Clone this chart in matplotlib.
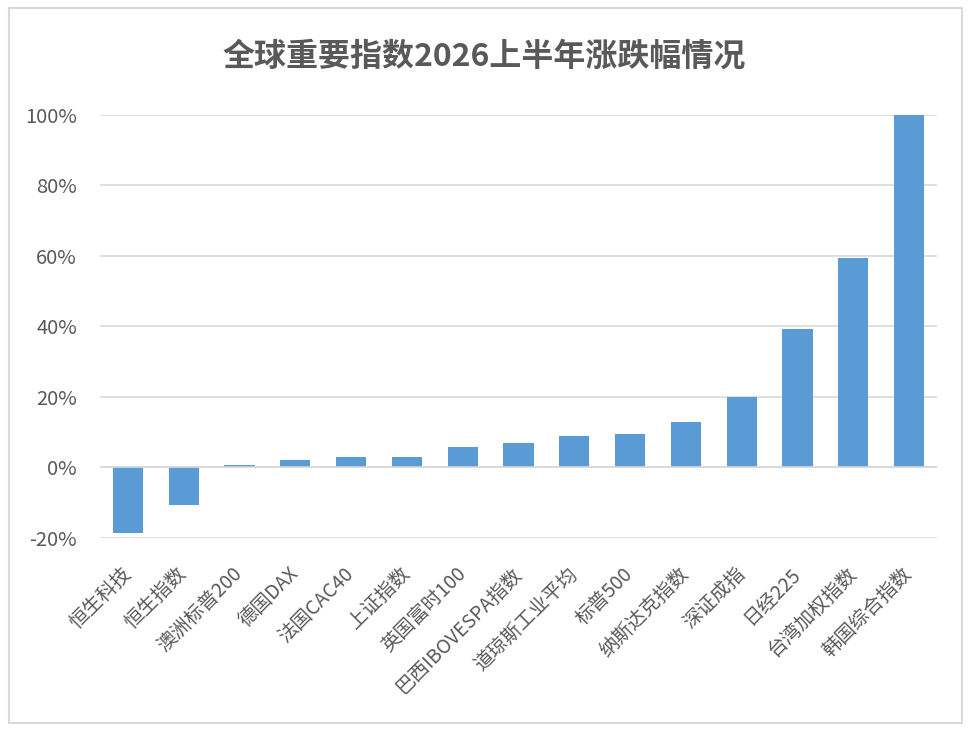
import matplotlib
matplotlib.use("Agg")
import matplotlib.pyplot as plt
from matplotlib.patches import Rectangle
from matplotlib.ticker import FuncFormatter, MultipleLocator

plt.rcParams['font.family'] = ['Noto Sans CJK SC', 'DejaVu Sans']

categories = ["恒生科技", "恒生指数", "澳洲标普200", "德国DAX", "法国CAC40", "上证指数",
              "英国富时100", "巴西IBOVESPA指数", "道琼斯工业平均", "标普500", "纳斯达克指数",
              "深证成指", "日经225", "台湾加权指数", "韩国综合指数"]
values = [-0.188, -0.108, 0.007, 0.019, 0.030, 0.030, 0.056, 0.067, 0.087, 0.095,
          0.127, 0.198, 0.392, 0.593, 1.000]
title = "全球重要指数2026上半年涨跌幅情况"

text_color = "#595959"
grid_color = "#d9d9d9"
bar_color = "#5b9bd5"

W, H = 969, 733
fig = plt.figure(figsize=(W / 100, H / 100), dpi=100)
fig.patch.set_facecolor("white")

# outer border
fig.patches.append(Rectangle((9 / W, 1 - 723 / H), (962 - 9) / W, (723 - 8) / H,
                             transform=fig.transFigure, fill=False,
                             edgecolor=grid_color, linewidth=1.5))

ax = fig.add_axes([100 / W, 1 - 537.5 / H, (937 - 100) / W, (537.5 - 115) / H])
x = list(range(len(categories)))
ax.bar(x, values, width=0.54, color=bar_color, zorder=2)
ax.axhline(0, color=grid_color, linewidth=1.2, zorder=3)

ax.set_xlim(-0.5, len(categories) - 0.5)
ax.set_ylim(-0.2, 1.0)
ax.yaxis.set_major_locator(MultipleLocator(0.2))
ax.yaxis.set_major_formatter(FuncFormatter(lambda v, p: f"{round(v * 100):d}%"))
ax.grid(axis="y", color=grid_color, linewidth=1.2, zorder=0)
ax.set_axisbelow(True)
for s in ax.spines.values():
    s.set_visible(False)

ax.tick_params(axis="y", length=0, pad=16.5, labelsize=14.5, labelcolor=text_color)
ax.tick_params(axis="x", length=0, pad=24, labelsize=14, labelcolor=text_color)
ax.set_xticks(x)
ax.set_xticklabels(categories, rotation=45, ha="right", va="center",
                   rotation_mode="anchor")

fig.text(484 / W, 1 - 57 / H, title, ha="center", va="center", fontsize=23,
         fontweight="bold", color=text_color)

fig.savefig("out.png", dpi=100)
